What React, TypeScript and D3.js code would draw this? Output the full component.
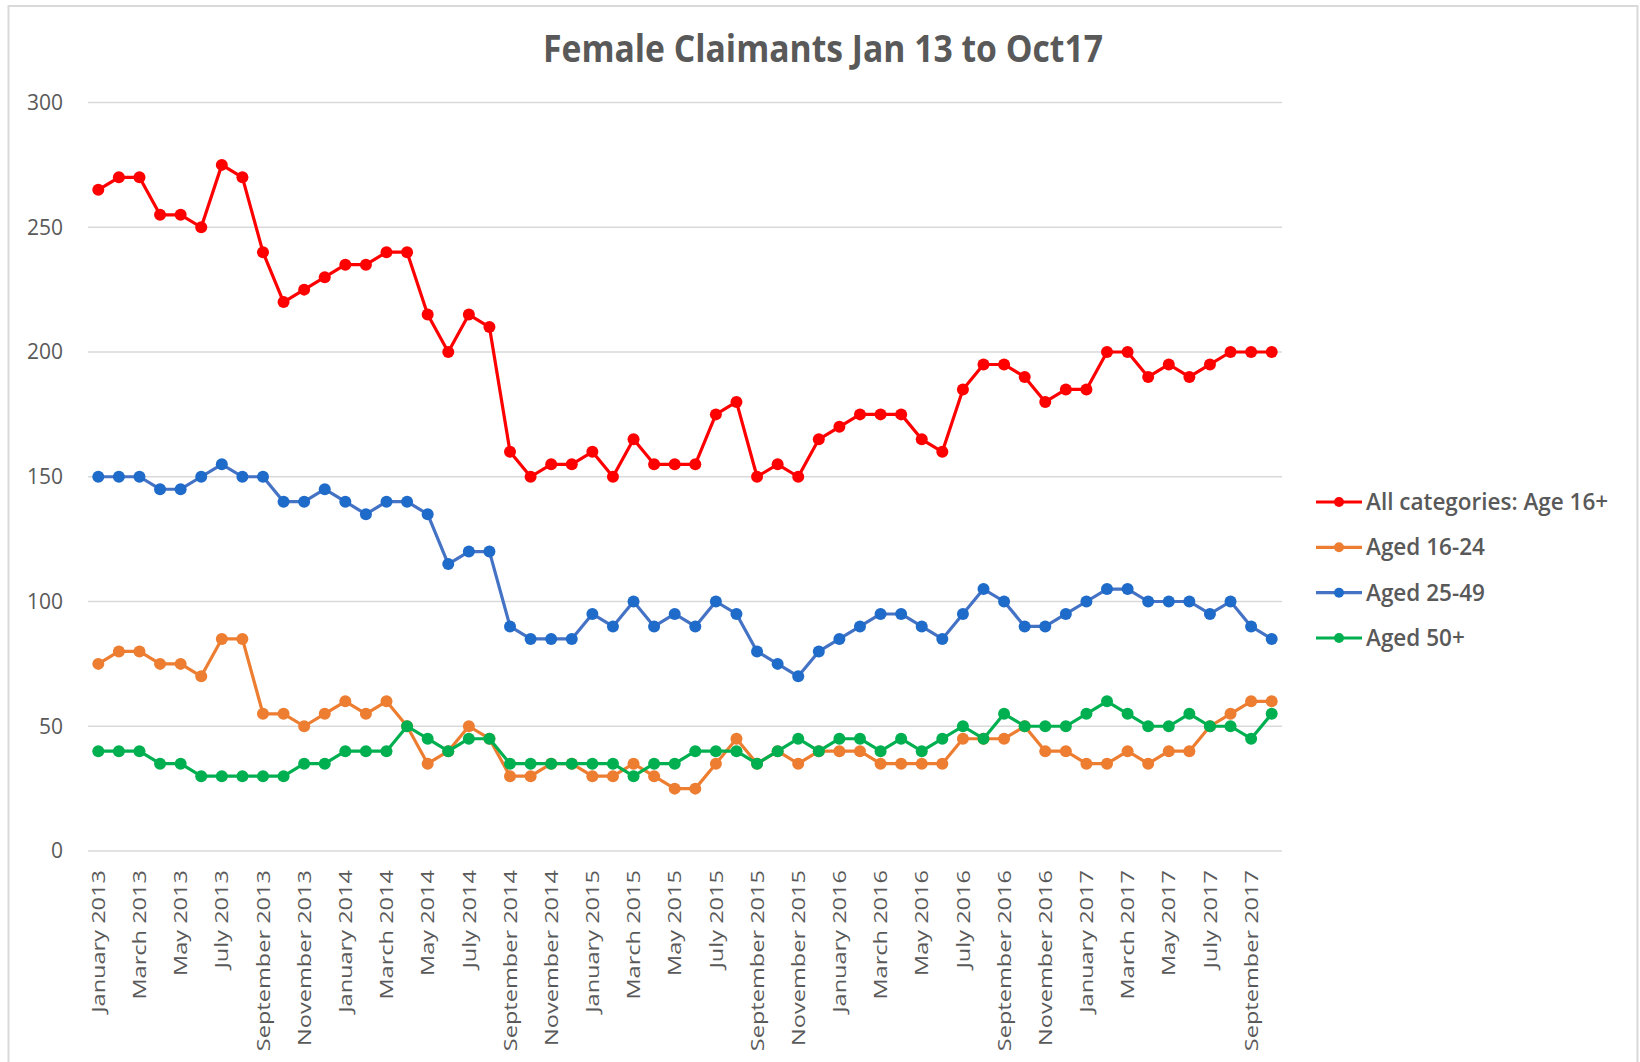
import React from "react";
import * as d3 from "d3";

// Monthly female claimant counts, Jan 2013 to Oct 2017
const monthNames = [
  "January", "February", "March", "April", "May", "June",
  "July", "August", "September", "October", "November", "December",
];
const years = [2013, 2014, 2015, 2016, 2017];
const months: string[] = years.flatMap((y) =>
  monthNames.map((m) => `${m} ${y}`)
).slice(0, 58);

const allAges = [
  265, 270, 270, 255, 255, 250, 275, 270, 240, 220, 225, 230,
  235, 235, 240, 240, 215, 200, 215, 210, 160, 150, 155, 155,
  160, 150, 165, 155, 155, 155, 175, 180, 150, 155, 150, 165,
  170, 175, 175, 175, 165, 160, 185, 195, 195, 190, 180, 185,
  185, 200, 200, 190, 195, 190, 195, 200, 200, 200,
];
const aged16to24 = [
  75, 80, 80, 75, 75, 70, 85, 85, 55, 55, 50, 55,
  60, 55, 60, 50, 35, 40, 50, 45, 30, 30, 35, 35,
  30, 30, 35, 30, 25, 25, 35, 45, 35, 40, 35, 40,
  40, 40, 35, 35, 35, 35, 45, 45, 45, 50, 40, 40,
  35, 35, 40, 35, 40, 40, 50, 55, 60, 60,
];
const aged25to49 = [
  150, 150, 150, 145, 145, 150, 155, 150, 150, 140, 140, 145,
  140, 135, 140, 140, 135, 115, 120, 120, 90, 85, 85, 85,
  95, 90, 100, 90, 95, 90, 100, 95, 80, 75, 70, 80,
  85, 90, 95, 95, 90, 85, 95, 105, 100, 90, 90, 95,
  100, 105, 105, 100, 100, 100, 95, 100, 90, 85,
];
const aged50plus = [
  40, 40, 40, 35, 35, 30, 30, 30, 30, 30, 35, 35,
  40, 40, 40, 50, 45, 40, 45, 45, 35, 35, 35, 35,
  35, 35, 30, 35, 35, 40, 40, 40, 35, 40, 45, 40,
  45, 45, 40, 45, 40, 45, 50, 45, 55, 50, 50, 50,
  55, 60, 55, 50, 50, 55, 50, 50, 45, 55,
];
const yTicks = [0, 50, 100, 150, 200, 250, 300];

const series = [
  { name: "All categories: Age 16+", values: allAges, line: "#FF0000", dot: "#FF0000" },
  { name: "Aged 16-24", values: aged16to24, line: "#ED7D31", dot: "#ED7D31" },
  { name: "Aged 25-49", values: aged25to49, line: "#4472C4", dot: "#1F6BC9" },
  { name: "Aged 50+", values: aged50plus, line: "#00B050", dot: "#00B050" },
];
// drawing order: lower series on top like the original
const drawOrder = [0, 2, 1, 3];

const W = 1640;
const H = 1062;
const textColor = "#595959";
const font = "'Open Sans', sans-serif";

export default function App() {
  const x = d3.scalePoint<string>().domain(months).range([88, 1282]).padding(0.5);
  const y = d3.scaleLinear().domain([0, 300]).range([851, 102.5]);

  const line = d3
    .line<number>()
    .x((_, i) => x(months[i]) as number)
    .y((d) => y(d));

  const legendY = d3.scalePoint<number>().domain([0, 1, 2, 3]).range([502, 638]);

  return (
    <svg
      width={W}
      height={H}
      style={{ position: "absolute", left: 0, top: 0, background: "#fff" }}
      fontFamily={font}
    >
      <rect x={0} y={0} width={W} height={H} fill="#fff" />
      <rect x={8.5} y={6} width={1629} height={H + 20} fill="none" stroke="#d9d9d9" strokeWidth={2} />

      <text
        x={823}
        y={62}
        textAnchor="middle"
        fontSize={38}
        fontWeight={700}
        fill={textColor}
        textLength={560}
        lengthAdjust="spacingAndGlyphs"
      >
        Female Claimants Jan 13 to Oct17
      </text>

      {/* gridlines + y labels */}
      {yTicks.map((t) => (
        <g key={t}>
          <line x1={88} x2={1282} y1={y(t)} y2={y(t)} stroke="#d9d9d9" strokeWidth={1.5} />
          <text
            x={63}
            y={y(t)}
            dy="0.35em"
            textAnchor="end"
            fontSize={21}
            fill={textColor}
          >
            {t}
          </text>
        </g>
      ))}

      {/* x labels, every second month */}
      {months.map((m, i) =>
        i % 2 === 0 ? (
          <text
            key={m}
            transform={`translate(${x(m)},870) rotate(-90) scale(1.24,1)`}
            textAnchor="end"
            dy="0.35em"
            fontSize={19}
            fill={textColor}
          >
            {m}
          </text>
        ) : null
      )}

      {/* series */}
      {drawOrder.map((si) => {
        const s = series[si];
        return (
          <g key={s.name}>
            <path d={line(s.values) || ""} fill="none" stroke={s.line} strokeWidth={3.2} strokeLinejoin="round" />
            {s.values.map((v, i) => (
              <circle key={i} cx={x(months[i])} cy={y(v)} r={6} fill={s.dot} />
            ))}
          </g>
        );
      })}

      {/* legend */}
      {series.map((s, i) => (
        <g key={s.name} transform={`translate(0,${legendY(i)})`}>
          <line x1={1316} x2={1362} y1={0} y2={0} stroke={s.line} strokeWidth={3.2} />
          <circle cx={1339} cy={0} r={5} fill={s.dot} />
          <text x={1366} y={0} dy="0.35em" fontSize={22.5} fill={textColor} fontWeight={600}>
            {s.name}
          </text>
        </g>
      ))}
    </svg>
  );
}
